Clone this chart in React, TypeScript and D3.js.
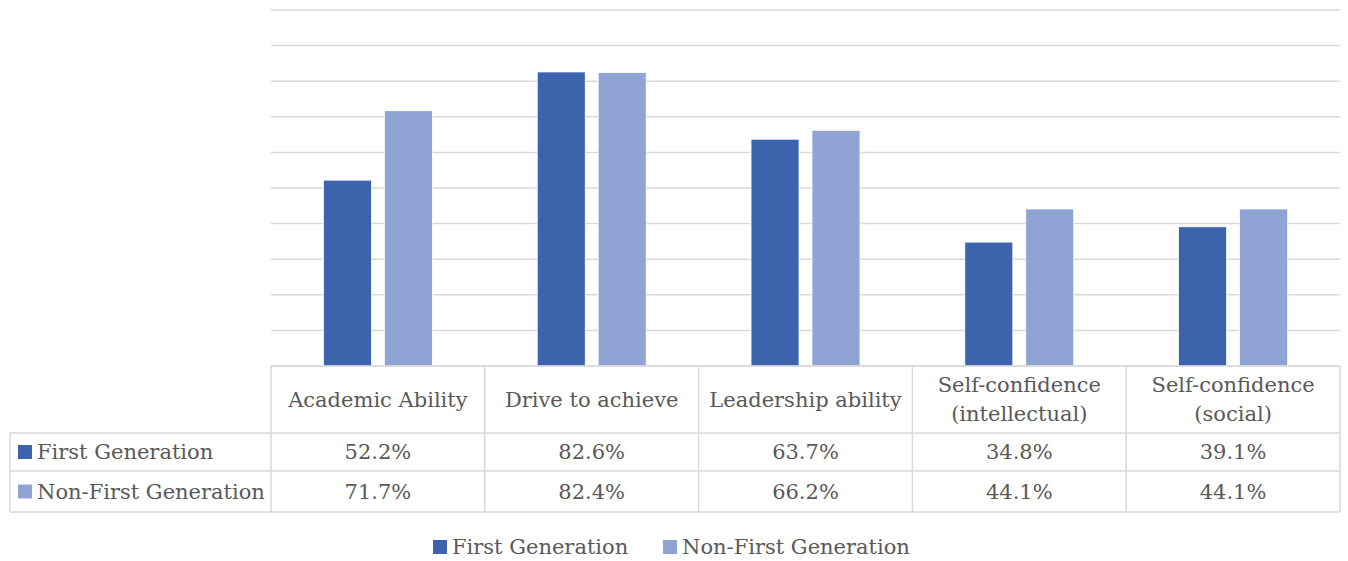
import React from "react";
import * as d3 from "d3";

const categories: string[][] = [
  ["Academic Ability"],
  ["Drive to achieve"],
  ["Leadership ability"],
  ["Self-confidence", "(intellectual)"],
  ["Self-confidence", "(social)"],
];
const seriesNames = ["First Generation", "Non-First Generation"];
const firstGen = [52.2, 82.6, 63.7, 34.8, 39.1];
const nonFirstGen = [71.7, 82.4, 66.2, 44.1, 44.1];
const yTicks = [0, 10, 20, 30, 40, 50, 60, 70, 80, 90, 100];
const colors = ["#3C64AD", "#8FA3D4"];

const W = 1348;
const H = 561;
const plotL = 271;
const plotR = 1340;
const plotT = 10;
const plotB = 366;
const tableL = 10;
const row1 = 433;
const row2 = 471;
const row3 = 512;
const FONT = "DejaVu Serif";
const TXT = "#595959";
const GRID = "#D9D9D9";

export default function App() {
  const idx = categories.map((_, i) => i);
  const x = d3.scaleBand<number>().domain(idx).range([plotL, plotR]).paddingInner(0).paddingOuter(0);
  const inner = d3.scaleBand<number>().domain([0, 1]).range([0, x.bandwidth()]).paddingInner(0.213).paddingOuter(0.86);
  const y = d3.scaleLinear().domain([0, 100]).range([plotB, plotT]);
  const series = [firstGen, nonFirstGen];
  const bw = x.bandwidth();
  const fs = 21;

  return (
    <svg width={W} height={H} style={{ position: "absolute", left: 0, top: 0, background: "#fff" }} fontFamily={FONT}>
      {yTicks.map((t) => (
        <line key={t} x1={plotL} x2={plotR} y1={y(t)} y2={y(t)} stroke={GRID} strokeWidth={1.5} />
      ))}
      {series.map((vals, s) =>
        vals.map((v, i) => (
          <rect
            key={`${s}-${i}`}
            x={(x(i) as number) + (inner(s) as number)}
            y={y(v)}
            width={inner.bandwidth()}
            height={plotB - y(v)}
            fill={colors[s]}
            stroke="#fff"
            strokeWidth={0.75}
          />
        ))
      )}
      <g stroke={GRID} strokeWidth={1.5} fill="none">
        <line x1={plotL} x2={plotR} y1={plotB} y2={plotB} />
        <line x1={tableL} x2={plotR} y1={row1} y2={row1} />
        <line x1={tableL} x2={plotR} y1={row2} y2={row2} />
        <line x1={tableL} x2={plotR} y1={row3} y2={row3} />
        <line x1={tableL} x2={tableL} y1={row1} y2={row3} />
        {d3.range(categories.length + 1).map((i) => {
          const xx = i < categories.length ? (x(i) as number) : plotR;
          return <line key={i} x1={xx} x2={xx} y1={plotB} y2={row3} />;
        })}
      </g>
      {categories.map((lines, i) => {
        const cx = (x(i) as number) + bw / 2;
        const mid = (plotB + row1) / 2;
        const lh = 29;
        return (
          <text key={i} x={cx} textAnchor="middle" fontSize={fs} fill={TXT}>
            {lines.map((ln, j) => (
              <tspan key={j} x={cx} y={mid + (j - (lines.length - 1) / 2) * lh} dy="0.35em">
                {ln}
              </tspan>
            ))}
          </text>
        );
      })}
      {series.map((vals, s) => {
        const top = s === 0 ? row1 : row2;
        const bot = s === 0 ? row2 : row3;
        const cy = (top + bot) / 2;
        return (
          <g key={s}>
            <rect x={18} y={cy - 7} width={14} height={14} fill={colors[s]} />
            <text x={37} y={cy} dy="0.35em" fontSize={fs} fill={TXT}>
              {seriesNames[s]}
            </text>
            {vals.map((v, i) => (
              <text key={i} x={(x(i) as number) + bw / 2} y={cy} dy="0.35em" textAnchor="middle" fontSize={fs} fill={TXT}>
                {v.toFixed(1)}%
              </text>
            ))}
          </g>
        );
      })}
      <g>
        <rect x={433} y={540} width={14} height={14} fill={colors[0]} />
        <text x={452} y={547} dy="0.35em" fontSize={fs} fill={TXT}>{seriesNames[0]}</text>
        <rect x={663} y={540} width={14} height={14} fill={colors[1]} />
        <text x={682} y={547} dy="0.35em" fontSize={fs} fill={TXT}>{seriesNames[1]}</text>
      </g>
    </svg>
  );
}
